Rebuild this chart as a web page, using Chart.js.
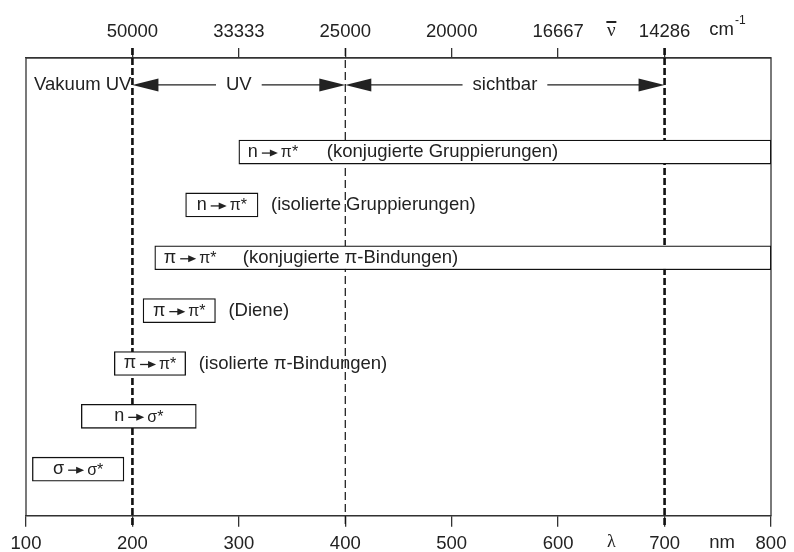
<!DOCTYPE html>
<html>
<head>
<meta charset="utf-8">
<script src="https://cdn.jsdelivr.net/npm/chart.js@4.4.0/dist/chart.umd.min.js"></script>
<style>
  html, body { margin: 0; padding: 0; background: #fff; }
  #wrap { width: 794px; height: 552px; }
</style>
</head>
<body>
<div id="wrap"><canvas id="uvChart" width="794" height="552"></canvas></div>
<script>
// transitions (from -> to), one per row, top to bottom
const transFrom = ['n', 'n', '\u03c0', '\u03c0', '\u03c0', 'n', '\u03c3'];
const transTo = ['\u03c0*', '\u03c0*', '\u03c0*', '\u03c0*', '\u03c0*', '\u03c3*', '\u03c3*'];
const groups = ['(konjugierte Gruppierungen)', '(isolierte Gruppierungen)', '(konjugierte \u03c0-Bindungen)',
  '(Diene)', '(isolierte \u03c0-Bindungen)', '', ''];
// wavelength range in nm
const rangeStart = [300, 250, 221, 210, 183, 152, 106];
const rangeEnd = [800, 318, 800, 278, 250, 260, 192];

const nmTicks = [100, 200, 300, 400, 500, 600, 700, 800];
const waveNumberTicks = { 200: '50000', 300: '33333', 400: '25000', 500: '20000', 600: '16667', 700: '14286' };

const regionBounds = [200, 400, 700];
const regionLabels = ['UV', 'sichtbar'];

const FONT = '"Liberation Sans", Arial, sans-serif';
const INK = '#222';

function arrowHead(ctx, tipX, y, dir, len, half) {
  ctx.beginPath();
  ctx.moveTo(tipX, y);
  ctx.lineTo(tipX - dir * len, y - half);
  ctx.lineTo(tipX - dir * len, y + half);
  ctx.closePath();
  ctx.fill();
}

function transitionWidth(ctx, i) {
  ctx.font = '18px ' + FONT;
  const a = ctx.measureText(transFrom[i]).width;
  ctx.font = '16px ' + FONT;
  const b = ctx.measureText(transTo[i]).width;
  return a + 4 + 16 + 3 + b;
}

function drawTransition(ctx, i, x, y) {
  ctx.textAlign = 'left';
  ctx.textBaseline = 'middle';
  ctx.font = '18px ' + FONT;
  ctx.fillText(transFrom[i], x, y);
  let cx = x + ctx.measureText(transFrom[i]).width + 4;
  ctx.lineWidth = 1.3;
  ctx.beginPath();
  ctx.moveTo(cx, y + 1);
  ctx.lineTo(cx + 10, y + 1);
  ctx.stroke();
  arrowHead(ctx, cx + 16, y + 1, 1, 8, 3.5);
  cx += 16 + 3;
  ctx.font = '16px ' + FONT;
  ctx.fillText(transTo[i], cx, y + 1);
}

const annotations = {
  id: 'annotations',
  beforeDatasetsDraw(chart) {
    const { ctx, chartArea: a, scales: { x } } = chart;
    ctx.save();
    ctx.strokeStyle = '#333';
    ctx.lineWidth = 1.3;
    ctx.strokeRect(a.left, a.top, a.right - a.left, a.bottom - a.top);
    // region borders
    regionBounds.forEach(v => {
      const px = x.getPixelForValue(v);
      const thin = v === 400;
      ctx.setLineDash(thin ? [8, 4] : [7, 3]);
      ctx.lineWidth = thin ? 1.2 : 2.6;
      ctx.strokeStyle = '#111';
      ctx.beginPath();
      ctx.moveTo(px, a.top - 10);
      ctx.lineTo(px, a.bottom + 11);
      ctx.stroke();
    });
    ctx.restore();
  },
  afterDatasetsDraw(chart) {
    const { ctx, chartArea: a, scales: { x, y } } = chart;
    ctx.save();
    ctx.fillStyle = INK;
    ctx.strokeStyle = INK;

    // region arrows
    const yA = y.getPixelForValue(-1.27);
    ctx.font = '18.5px ' + FONT;
    ctx.textBaseline = 'middle';
    ctx.textAlign = 'right';
    ctx.fillText('Vakuum UV', x.getPixelForValue(regionBounds[0]) - 1, yA);
    ctx.textAlign = 'center';
    regionLabels.forEach((lab, i) => {
      const xa = x.getPixelForValue(regionBounds[i]);
      const xb = x.getPixelForValue(regionBounds[i + 1]);
      const mid = (xa + xb) / 2;
      const tw = ctx.measureText(lab).width;
      ctx.fillText(lab, mid, yA);
      ctx.lineWidth = 1.2;
      ctx.beginPath();
      ctx.moveTo(xa + 20, yA); ctx.lineTo(mid - tw / 2 - 10, yA);
      ctx.moveTo(mid + tw / 2 + 10, yA); ctx.lineTo(xb - 20, yA);
      ctx.stroke();
      arrowHead(ctx, xa, yA, -1, 26, 6.5);
      arrowHead(ctx, xb, yA, 1, 26, 6.5);
    });

    // bar labels
    rangeStart.forEach((s, i) => {
      const l = x.getPixelForValue(s);
      const r = x.getPixelForValue(rangeEnd[i]);
      const cy = y.getPixelForValue(i);
      ctx.fillStyle = INK;
      ctx.strokeStyle = INK;
      if (rangeEnd[i] >= 800) {
        drawTransition(ctx, i, l + 9, cy);
        ctx.font = '18.5px ' + FONT;
        ctx.textAlign = 'left';
        ctx.fillText(groups[i], l + 88, cy);
      } else {
        const w = transitionWidth(ctx, i);
        drawTransition(ctx, i, (l + r) / 2 - w / 2, cy);
        if (groups[i]) {
          ctx.font = '18.5px ' + FONT;
          ctx.textAlign = 'left';
          ctx.fillText(groups[i], r + 13, cy);
        }
      }
    });

    // axis units
    ctx.textAlign = 'center';
    ctx.textBaseline = 'middle';
    const topY = a.top - 28;
    const botY = a.bottom + 27;
    const xNu = x.getPixelForValue(650);
    ctx.font = '19px "Liberation Serif", serif';
    ctx.fillText('\u03bd', xNu, topY + 1);
    ctx.lineWidth = 2;
    ctx.beginPath();
    ctx.moveTo(xNu - 5, topY - 8); ctx.lineTo(xNu + 5, topY - 8);
    ctx.stroke();
    ctx.font = '18.5px ' + FONT;
    ctx.textAlign = 'left';
    const xCm = x.getPixelForValue(742);
    ctx.fillText('cm', xCm, topY);
    const cmW = ctx.measureText('cm').width;
    ctx.font = '12px ' + FONT;
    ctx.fillText('-1', xCm + cmW + 1, topY - 9);
    ctx.textAlign = 'center';
    ctx.font = '18px "Liberation Serif", serif';
    ctx.fillText('\u03bb', x.getPixelForValue(650), botY);
    ctx.font = '18.5px ' + FONT;
    ctx.fillText('nm', x.getPixelForValue(754), botY);
    ctx.restore();
  }
};

new Chart(document.getElementById('uvChart'), {
  type: 'bar',
  data: {
    datasets: [{
      label: 'Wellenl\u00e4ngenbereich',
      data: rangeStart.map((s, i) => ({ x: [s, rangeEnd[i]], y: i })),
      backgroundColor: '#fff',
      borderColor: '#111',
      borderWidth: 1.3,
      borderSkipped: false,
      barThickness: 24
    }]
  },
  options: {
    indexAxis: 'y',
    responsive: false,
    animation: false,
    layout: { padding: { left: 26, right: 23, top: 10, bottom: 0 } },
    plugins: { legend: { display: false }, tooltip: { enabled: false } },
    scales: {
      y: { type: 'linear', reverse: true, min: -1.78, max: 6.88, offset: false, display: false },
      x: {
        type: 'linear', position: 'bottom', min: 100, max: 800,
        afterBuildTicks: s => { s.ticks = nmTicks.map(v => ({ value: v })); },
        afterFit: s => { s.height = 36.3; },
        ticks: { color: INK, font: { family: FONT, size: 18.5, lineHeight: 1 }, padding: 7.5, maxRotation: 0 },
        grid: { drawOnChartArea: false, tickLength: 11, color: '#333', lineWidth: 1.3 },
        border: { color: '#333', width: 1.3 }
      },
      x2: {
        type: 'linear', position: 'top', min: 100, max: 800,
        afterBuildTicks: s => { s.ticks = nmTicks.map(v => ({ value: v })); },
        afterFit: s => { s.height = 48; },
        ticks: {
          color: INK, font: { family: FONT, size: 18.5, lineHeight: 1 }, padding: 6.75, maxRotation: 0,
          callback: v => waveNumberTicks[v] || null
        },
        grid: { drawOnChartArea: false, tickLength: 10, color: '#333', lineWidth: 1.3 },
        border: { color: '#333', width: 1.3 }
      }
    }
  },
  plugins: [annotations]
});
</script>
</body>
</html>
